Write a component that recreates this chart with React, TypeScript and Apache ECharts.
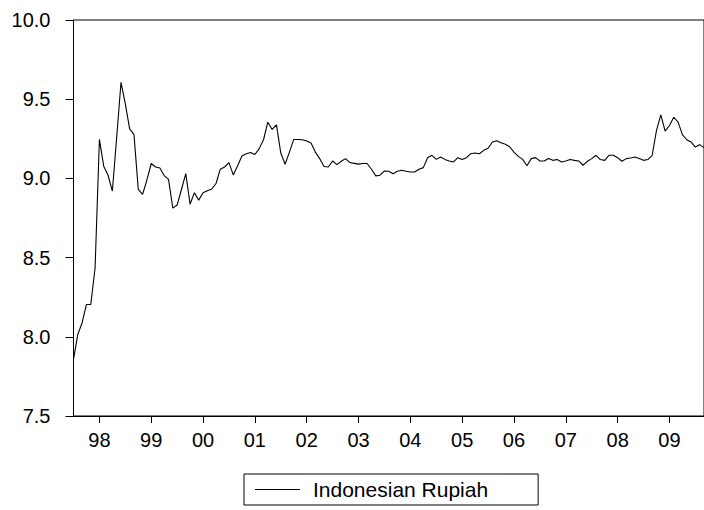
import React, { useEffect, useRef } from "react";
import * as echarts from "echarts";

// Monthly series, 1997m7 .. 2009m9 (log of IDR per USD)
const startYear = 1997;
const startMonth = 7;

const rupiah: number[] = [
  // 1997 Jul-Dec
  7.858, 8.015, 8.089, 8.204, 8.204, 8.434,
  // 1998
  9.246, 9.077, 9.02, 8.92, 9.26, 9.606, 9.47, 9.313, 9.278, 8.93, 8.899, 8.99,
  // 1999
  9.094, 9.072, 9.066, 9.018, 8.994, 8.812, 8.832, 8.93, 9.03, 8.837, 8.91, 8.863,
  // 2000
  8.91, 8.922, 8.933, 8.968, 9.058, 9.072, 9.1, 9.022, 9.08, 9.141, 9.156, 9.163,
  // 2001
  9.151, 9.188, 9.244, 9.355, 9.309, 9.338, 9.16, 9.089, 9.166, 9.246, 9.246, 9.244,
  // 2002
  9.236, 9.223, 9.166, 9.125, 9.075, 9.072, 9.11, 9.087, 9.108, 9.125, 9.1, 9.095,
  // 2003
  9.09, 9.094, 9.094, 9.058, 9.016, 9.02, 9.047, 9.045, 9.03, 9.045, 9.051, 9.045,
  // 2004
  9.04, 9.04, 9.058, 9.068, 9.13, 9.146, 9.12, 9.135, 9.12, 9.11, 9.104, 9.131,
  // 2005
  9.119, 9.131, 9.156, 9.16, 9.156, 9.177, 9.19, 9.23, 9.238, 9.225, 9.215, 9.2,
  // 2006
  9.166, 9.139, 9.12, 9.08, 9.125, 9.131, 9.11, 9.11, 9.125, 9.114, 9.119, 9.104,
  // 2007
  9.11, 9.119, 9.114, 9.11, 9.083, 9.108, 9.125, 9.146, 9.119, 9.114, 9.146, 9.146,
  // 2008
  9.131, 9.108, 9.125, 9.129, 9.135, 9.125, 9.114, 9.119, 9.146, 9.303, 9.401, 9.298,
  // 2009 Jan-Sep
  9.334, 9.386, 9.355, 9.276, 9.244, 9.23, 9.198, 9.213, 9.194,
];

const yearTickLabels = ["98", "99", "00", "01", "02", "03", "04", "05", "06", "07", "08", "09"];
const yearTickYears = [1998, 1999, 2000, 2001, 2002, 2003, 2004, 2005, 2006, 2007, 2008, 2009];

const months: string[] = rupiah.map((_, i) => {
  const m0 = startMonth - 1 + i;
  const y = startYear + Math.floor(m0 / 12);
  const m = (m0 % 12) + 1;
  return `${y}-${m < 10 ? "0" + m : m}`;
});

const isJan = (_idx: number, value: string) => value.endsWith("-01");

const FONT = "'Liberation Sans', Arial, sans-serif";

export default function App() {
  const ref = useRef<HTMLDivElement>(null);
  useEffect(() => {
    const chart = echarts.init(ref.current!, null, { renderer: "svg" });
    chart.setOption({
      animation: false,
      backgroundColor: "#ffffff",
      grid: {
        left: 73.5,
        top: 20,
        right: -1,
        bottom: 94,
        show: true,
        borderColor: "#000",
        borderWidth: 1,
        backgroundColor: "transparent",
      },
      xAxis: {
        type: "category",
        data: months,
        boundaryGap: false,
        axisLine: { lineStyle: { color: "#000", width: 1 } },
        axisTick: { interval: isJan, length: 7, lineStyle: { color: "#000" } },
        axisLabel: {
          interval: isJan,
          margin: 14,
          color: "#000",
          fontSize: 20,
          fontFamily: FONT,
          formatter: (v: string) => {
            const y = parseInt(v.slice(0, 4), 10);
            const k = yearTickYears.indexOf(y);
            return k >= 0 ? yearTickLabels[k] : "";
          },
        },
        splitLine: { show: false },
      },
      yAxis: {
        type: "value",
        min: 7.5,
        max: 10,
        interval: 0.5,
        axisLine: { show: true, lineStyle: { color: "#000", width: 1 } },
        axisTick: { show: true, length: 8, lineStyle: { color: "#000" } },
        axisLabel: {
          margin: 23,
          color: "#000",
          fontSize: 20,
          fontFamily: FONT,
          formatter: (v: number) => v.toFixed(1),
        },
        splitLine: { show: false },
      },
      legend: {
        left: 244,
        top: 474,
        orient: "horizontal",
        padding: [5, 50, 5, 11],
        borderColor: "#000",
        borderWidth: 1,
        itemWidth: 45,
        itemHeight: 1,
        icon: "rect",
        itemStyle: { color: "#000", borderWidth: 0 },
        textStyle: {
          color: "#000",
          fontSize: 21,
          fontFamily: FONT,
          padding: [0, 0, 0, 8],
        },
        data: ["Indonesian Rupiah"],
      },
      series: [
        {
          name: "Indonesian Rupiah",
          type: "line",
          data: rupiah,
          symbol: "none",
          showSymbol: false,
          lineStyle: { color: "#000", width: 1.1 },
          itemStyle: { color: "#000" },
        },
      ],
    });
    return () => chart.dispose();
  }, []);
  return (
    <div
      ref={ref}
      style={{ position: "absolute", left: 0, top: 0, width: 704, height: 510, background: "#fff" }}
    />
  );
}
